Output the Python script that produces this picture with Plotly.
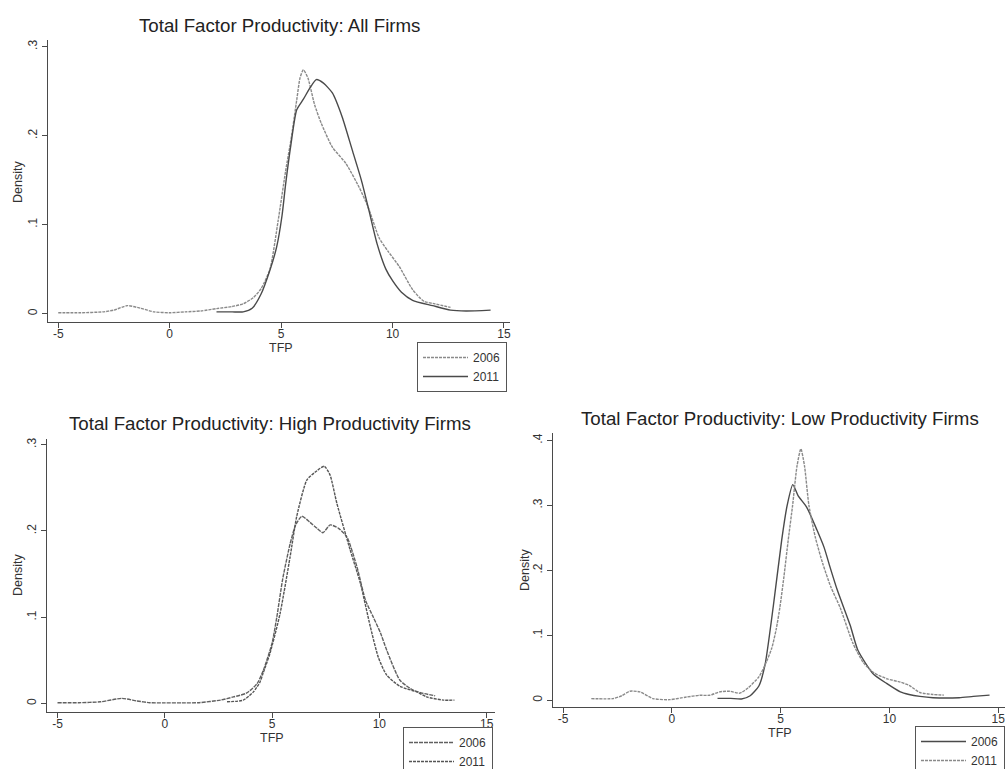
import plotly.graph_objects as go

# ---------------- data ----------------
panel_titles = [
    "Total Factor Productivity: All Firms",
    "Total Factor Productivity: High Productivity Firms",
    "Total Factor Productivity: Low Productivity Firms",
]
series_names = ["2006", "2011"]
x_tick_vals = [-5, 0, 5, 10, 15]
x_tick_text = ["-5", "0", "5", "10", "15"]
y_tick_vals_03 = [0, 0.1, 0.2, 0.3]
y_tick_text_03 = ["0", ".1", ".2", ".3"]
y_tick_vals_04 = [0, 0.1, 0.2, 0.3, 0.4]
y_tick_text_04 = ["0", ".1", ".2", ".3", ".4"]

# All firms
all_tfp_2006 = [-5.0, -4.0, -3.0, -2.5, -1.9, -1.3, -0.7, 0.0, 0.7, 1.4, 2.1, 2.8, 3.3, 3.75,
                4.1, 4.5, 4.87, 5.2, 5.44, 5.7, 5.85, 6.0, 6.2, 6.5, 6.8, 7.3, 7.9, 8.5, 8.9,
                9.4, 9.8, 10.3, 10.9, 11.4, 11.9, 12.6]
all_dens_2006 = [0.001, 0.001, 0.002, 0.004, 0.009, 0.006, 0.002, 0.001, 0.002, 0.003, 0.0056,
                 0.008, 0.011, 0.018, 0.028, 0.05, 0.105, 0.16, 0.195, 0.24, 0.265, 0.274, 0.265,
                 0.235, 0.214, 0.187, 0.169, 0.142, 0.12, 0.085, 0.07, 0.053, 0.027, 0.014,
                 0.011, 0.007]
all_tfp_2011 = [2.1, 2.8, 3.3, 3.7, 4.1, 4.5, 4.8, 5.04, 5.2, 5.44, 5.7, 6.0, 6.3, 6.58, 6.9,
                7.3, 7.74, 8.19, 8.6, 8.94, 9.3, 9.7, 10.0, 10.4, 10.9, 11.8, 12.6, 13.3, 14.4]
all_dens_2011 = [0.002, 0.002, 0.002, 0.006, 0.022, 0.049, 0.075, 0.11, 0.145, 0.19, 0.229,
                 0.241, 0.254, 0.263, 0.259, 0.248, 0.221, 0.184, 0.15, 0.116, 0.079, 0.05,
                 0.037, 0.024, 0.015, 0.009, 0.004, 0.003, 0.004]

# High productivity firms
high_tfp_2006 = [-5.0, -4.0, -3.0, -2.0, -1.3, -0.7, 0.0, 0.8, 1.6, 2.6, 3.2, 3.8, 4.3, 4.6,
                 5.0, 5.22, 5.5, 5.84, 6.1, 6.39, 6.77, 7.1, 7.37, 7.71, 8.1, 8.49, 8.96, 9.35,
                 9.72, 10.05, 10.34, 10.96, 11.58, 12.0, 12.6]
high_dens_2006 = [0.001, 0.001, 0.002, 0.006, 0.003, 0.001, 0.0008, 0.0008, 0.001, 0.004,
                  0.0077, 0.012, 0.023, 0.039, 0.07, 0.1, 0.145, 0.185, 0.207, 0.217, 0.21,
                  0.203, 0.198, 0.207, 0.203, 0.193, 0.158, 0.12, 0.1, 0.082, 0.062, 0.027,
                  0.0155, 0.012, 0.009]
high_tfp_2011 = [2.9, 3.66, 4.13, 4.44, 4.58, 4.9, 5.37, 5.84, 6.15, 6.62, 7.0, 7.43, 7.7,
                 8.02, 8.64, 9.11, 9.58, 9.96, 10.34, 10.96, 11.74, 12.2, 12.98, 13.5]
high_dens_2011 = [0.002, 0.004, 0.0135, 0.025, 0.035, 0.058, 0.104, 0.17, 0.217, 0.259,
                  0.268, 0.275, 0.265, 0.232, 0.178, 0.14, 0.089, 0.053, 0.033, 0.02, 0.0135,
                  0.0077, 0.004, 0.004]

# Low productivity firms
low_tfp_2006 = [2.1, 2.7, 3.2, 3.6, 4.0, 4.28, 4.66, 5.05, 5.3, 5.56, 5.8, 6.2, 6.67, 7.0,
                7.27, 7.6, 8.2, 8.55, 9.25, 9.87, 10.5, 10.9, 11.4, 12.0, 13.2, 13.85, 14.6]
low_dens_2006 = [0.003, 0.003, 0.002, 0.007, 0.022, 0.054, 0.144, 0.247, 0.3, 0.332, 0.315,
                 0.297, 0.262, 0.235, 0.205, 0.17, 0.115, 0.077, 0.041, 0.026, 0.013, 0.009,
                 0.006, 0.004, 0.004, 0.006, 0.008]
low_tfp_2011 = [-3.7, -2.7, -2.3, -1.93, -1.47, -0.86, -0.1, 0.67, 1.28, 1.74, 2.2, 2.66,
                3.12, 3.5, 4.0, 4.28, 4.59, 4.8, 4.97, 5.15, 5.35, 5.55, 5.75, 5.93, 6.1, 6.3,
                6.6, 6.93, 7.3, 7.73, 8.32, 8.8, 9.3, 9.9, 10.5, 10.9, 11.4, 12.0, 12.5]
low_dens_2011 = [0.0026, 0.0026, 0.007, 0.014, 0.013, 0.0026, 0.001, 0.005, 0.0077, 0.0077,
                 0.013, 0.014, 0.011, 0.019, 0.036, 0.054, 0.08, 0.11, 0.144, 0.19, 0.247, 0.3,
                 0.36, 0.387, 0.36, 0.3, 0.25, 0.211, 0.175, 0.143, 0.088, 0.058, 0.042, 0.033,
                 0.028, 0.023, 0.012, 0.009, 0.008]

# ---------------- layout helpers ----------------
W, H = 1007, 769
FONT = "Liberation Sans, Arial, Helvetica, sans-serif"


def fx(p):
    return p / W


def fy(p):
    return 1 - p / H


LIGHT = dict(color="#8a8a8a", width=1.4, dash="3px,1px")
DARK = dict(color="#4a4a4a", width=1.4, dash="solid")
DARK_DOT = dict(color="#555555", width=1.4, dash="3px,1px")
DARK_DOT2 = dict(color="#606060", width=1.4, dash="4px,1px")

fig = go.Figure()

traces = [
    # (x, y, name, axis suffix, legend id, line style)
    (all_tfp_2006, all_dens_2006, series_names[0], "", "legend", LIGHT),
    (all_tfp_2011, all_dens_2011, series_names[1], "", "legend", DARK),
    (high_tfp_2006, high_dens_2006, series_names[0], "2", "legend2", DARK_DOT2),
    (high_tfp_2011, high_dens_2011, series_names[1], "2", "legend2", DARK_DOT),
    (low_tfp_2006, low_dens_2006, series_names[0], "3", "legend3", DARK),
    (low_tfp_2011, low_dens_2011, series_names[1], "3", "legend3", LIGHT),
]
for x, y, name, ax, leg, style in traces:
    fig.add_trace(go.Scatter(
        x=x, y=y, name=name, mode="lines",
        line=dict(shape="spline", smoothing=0.6, **style),
        xaxis="x" + ax, yaxis="y" + ax, legend=leg, hoverinfo="skip",
    ))

axis_common = dict(
    showline=True, linecolor="#4a4a4a", linewidth=1.2,
    ticks="outside", ticklen=5, tickcolor="#4a4a4a", tickwidth=1.2,
    showgrid=False, zeroline=False, fixedrange=True,
    tickfont=dict(family=FONT, size=12, color="#333333"),
)


def xaxis(left, right, lo, hi, anchor):
    return dict(axis_common, domain=[fx(left), fx(right)], range=[lo, hi],
                tickvals=x_tick_vals, ticktext=x_tick_text, anchor=anchor,
                ticklabelstandoff=-5)


def yaxis(top, bottom, lo, hi, tv, tt, anchor):
    return dict(axis_common, domain=[fy(bottom), fy(top)], range=[lo, hi],
                tickvals=tv, ticktext=tt, tickangle=-90, anchor=anchor)


legend_common = dict(
    bgcolor="white", bordercolor="#555555", borderwidth=1,
    font=dict(family=FONT, size=12, color="#333333"),
    xanchor="left", yanchor="top", tracegroupgap=0, itemwidth=45,
    orientation="v",
)

fig.update_layout(
    width=W, height=H,
    margin=dict(l=0, r=0, t=0, b=0, autoexpand=False),
    paper_bgcolor="white", plot_bgcolor="white",
    font=dict(family=FONT, color="#333333"),
    xaxis=xaxis(48, 510, -5.46, 15.27, "y"),
    yaxis=yaxis(40, 322, -0.0094, 0.3075, y_tick_vals_03, y_tick_text_03, "x"),
    xaxis2=xaxis(47, 495, -5.49, 15.39, "y2"),
    yaxis2=yaxis(439, 712, -0.0098, 0.3066, y_tick_vals_03, y_tick_text_03, "x2"),
    xaxis3=xaxis(553, 1005, -5.46, 15.31, "y3"),
    yaxis3=yaxis(433, 707, -0.0103, 0.4114, y_tick_vals_04, y_tick_text_04, "x3"),
    legend=dict(legend_common, x=fx(417), y=fy(342)),
    legend2=dict(legend_common, x=fx(403), y=fy(727)),
    legend3=dict(legend_common, x=fx(915), y=fy(726)),
    showlegend=True,
)

ann = []
title_pos = [(279, 25), (270, 423), (780, 419)]
for t, (cx, cy) in zip(panel_titles, title_pos):
    ann.append(dict(text=t, x=fx(cx), y=fy(cy), xref="paper", yref="paper",
                    showarrow=False, xanchor="center", yanchor="middle",
                    font=dict(family=FONT, size=18.7, color="#222222")))
for cx, cy in [(281, 348), (272, 738), (780, 733)]:
    ann.append(dict(text="TFP", x=fx(cx), y=fy(cy), xref="paper", yref="paper",
                    showarrow=False, xanchor="center", yanchor="middle",
                    font=dict(family=FONT, size=12.5, color="#333333")))
for cx, cy in [(18, 182), (18, 575), (525, 570)]:
    ann.append(dict(text="Density", x=fx(cx), y=fy(cy), xref="paper", yref="paper",
                    showarrow=False, xanchor="center", yanchor="middle", textangle=-90,
                    font=dict(family=FONT, size=12.5, color="#333333")))
fig.update_layout(annotations=ann)

fig.write_html(
    "out.html",
    config={"displayModeBar": False},
    post_script="document.body.style.margin='0';document.body.style.overflow='hidden';",
)
